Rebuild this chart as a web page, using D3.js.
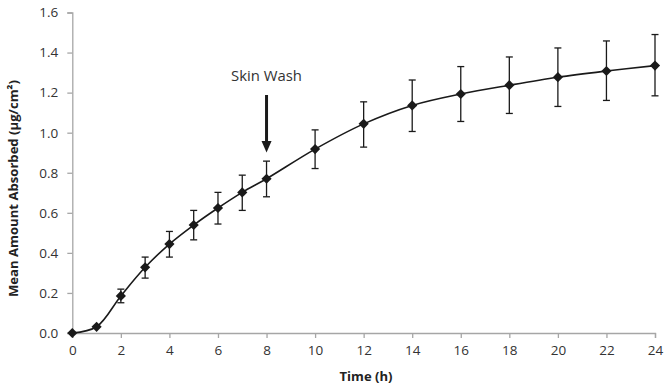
<!DOCTYPE html>
<html><head><meta charset="utf-8">
<script src="https://cdn.jsdelivr.net/npm/d3@7"></script>
<style>body{margin:0;background:#fff}svg{display:block}</style>
</head><body>
<script>
const times = [0,1,2,3,4,5,6,7,8,10,12,14,16,18,20,22,24];
const means = [0,0.031,0.185,0.328,0.444,0.539,0.624,0.702,0.770,0.918,1.044,1.136,1.193,1.237,1.277,1.308,1.335];
const upper = [null,null,0.219,0.379,0.507,0.612,0.702,0.788,0.858,1.014,1.154,1.263,1.330,1.378,1.423,1.458,1.490];
const lower = [null,null,0.151,0.274,0.379,0.465,0.544,0.612,0.680,0.821,0.928,1.006,1.056,1.096,1.131,1.161,1.184];
const xTicks = [0,2,4,6,8,10,12,14,16,18,20,22,24];
const yTicks = [0,0.2,0.4,0.6,0.8,1.0,1.2,1.4,1.6];
const annotation = {label:"Skin Wash", t:8};

const W=665,H=386;
const svg=d3.select("body").append("svg").attr("width",W).attr("height",H);
const x=d3.scaleLinear().domain([0,24]).range([72.3,655]);
const y=d3.scaleLinear().domain([0,1.6]).range([333,12.5]);
const font="'Open Sans', 'Liberation Sans', sans-serif";
const axisCol="#a6a6a6", txtCol="#333";

function fit(sel, target){
  const len=sel.node().getComputedTextLength();
  const fs=parseFloat(sel.style("font-size"));
  sel.style("font-size",(fs*target/len).toFixed(2)+"px");
}

// axes
const gx=svg.append("g").attr("transform",`translate(0,${y(0)})`)
  .call(d3.axisBottom(x).tickValues(xTicks).tickSize(5).tickPadding(7).tickFormat(d3.format("d")));
const gy=svg.append("g").attr("transform",`translate(${x(0)},0)`)
  .call(d3.axisLeft(y).tickValues(yTicks).tickSize(5).tickPadding(9).tickFormat(d3.format(".1f")));
[gx,gy].forEach(g=>{
  g.select(".domain").attr("stroke",axisCol).attr("stroke-width",1.3);
  g.selectAll(".tick line").attr("stroke",axisCol).attr("stroke-width",1.3);
  g.selectAll("text").attr("fill",txtCol).style("font-family",font).style("font-size","13.5px");
});

// error bars
const eb=times.map((t,i)=>({t,m:means[i],u:upper[i],l:lower[i]})).filter(d=>d.u!=null);
const ge=svg.append("g").attr("stroke","#1a1a1a").attr("stroke-width",1.3);
eb.forEach(d=>{
  ge.append("line").attr("x1",x(d.t)).attr("x2",x(d.t)).attr("y1",y(d.u)).attr("y2",y(d.l));
  ge.append("line").attr("x1",x(d.t)-3.5).attr("x2",x(d.t)+3.5).attr("y1",y(d.u)).attr("y2",y(d.u));
  ge.append("line").attr("x1",x(d.t)-3.5).attr("x2",x(d.t)+3.5).attr("y1",y(d.l)).attr("y2",y(d.l));
});

// smooth line
const pts=times.map((t,i)=>[t,means[i]]);
svg.append("path").datum(pts)
  .attr("d",d3.line().x(d=>x(d[0])).y(d=>y(d[1])).curve(d3.curveCatmullRom.alpha(0.5)))
  .attr("fill","none").attr("stroke","#1a1a1a").attr("stroke-width",1.6);

// markers
svg.append("g").selectAll("path").data(pts).join("path")
  .attr("transform",d=>`translate(${x(d[0])},${y(d[1])}) rotate(45)`)
  .attr("d","M-3.6,-3.6H3.6V3.6H-3.6Z").attr("fill","#1a1a1a");

// annotation
const ax=x(annotation.t);
const ann=svg.append("text").attr("x",ax).attr("y",81).attr("text-anchor","middle")
  .style("font-family",font).style("font-size","14px").attr("fill",txtCol).text(annotation.label);
fit(ann,71);
svg.append("line").attr("x1",ax).attr("x2",ax).attr("y1",95).attr("y2",142)
  .attr("stroke","#1a1a1a").attr("stroke-width",3);
svg.append("path").attr("d",`M${ax-5},141 L${ax+5},141 L${ax},152.5 Z`).attr("fill","#1a1a1a");

// axis titles
const xt=svg.append("text").attr("x",366).attr("y",381).attr("text-anchor","middle")
  .style("font-family",font).style("font-size","12.5px").style("font-weight","bold").attr("fill","#222").text("Time (h)");
fit(xt,53);
const yt=svg.append("text").attr("transform",`translate(18,188.5) rotate(-90)`).attr("text-anchor","middle")
  .style("font-family",font).style("font-size","12.5px").style("font-weight","bold").attr("fill","#222").text("Mean Amount Absorbed (µg/cm²)");
fit(yt,217);
</script>
</body></html>
